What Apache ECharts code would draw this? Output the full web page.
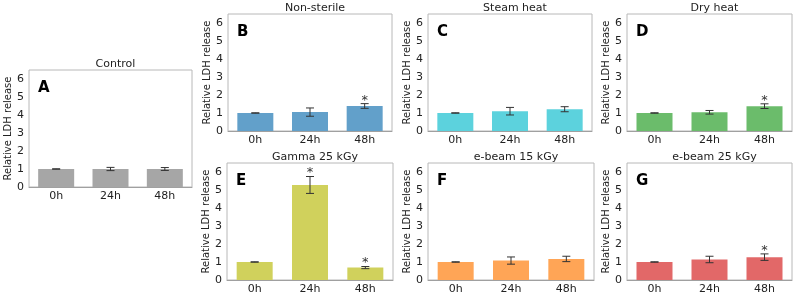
<!DOCTYPE html>
<html>
<head>
<meta charset="utf-8">
<script src="https://cdn.jsdelivr.net/npm/echarts@6/dist/echarts.min.js"></script>
<style>
  html, body { margin: 0; background: #fff; }
  #chart { width: 800px; height: 295px; }
</style>
</head>
<body>
<div id="chart"></div>
<script>
// data
const timepoints = ['0h', '24h', '48h'];
const panelTitles = ['Control', 'Non-sterile', 'Steam heat', 'Dry heat', 'Gamma 25 kGy', 'e-beam 15 kGy', 'e-beam 25 kGy'];
const panelLetters = ['A', 'B', 'C', 'D', 'E', 'F', 'G'];

const controlMean = [1.0, 1.0, 1.0];
const controlErr = [0.01, 0.09, 0.08];
const controlStar = [0, 0, 0];

const nonSterileMean = [1.0, 1.05, 1.39];
const nonSterileErr = [0.01, 0.23, 0.13];
const nonSterileStar = [0, 0, 1];

const steamMean = [1.0, 1.1, 1.21];
const steamErr = [0.01, 0.21, 0.14];
const steamStar = [0, 0, 0];

const dryMean = [1.0, 1.04, 1.38];
const dryErr = [0.01, 0.1, 0.13];
const dryStar = [0, 0, 1];

const gammaMean = [1.0, 5.28, 0.69];
const gammaErr = [0.01, 0.47, 0.06];
const gammaStar = [0, 1, 1];

const ebeam15Mean = [1.0, 1.08, 1.17];
const ebeam15Err = [0.01, 0.2, 0.15];
const ebeam15Star = [0, 0, 0];

const ebeam25Mean = [1.0, 1.14, 1.27];
const ebeam25Err = [0.01, 0.18, 0.18];
const ebeam25Star = [0, 0, 1];

const means = [controlMean, nonSterileMean, steamMean, dryMean, gammaMean, ebeam15Mean, ebeam25Mean];
const errs = [controlErr, nonSterileErr, steamErr, dryErr, gammaErr, ebeam15Err, ebeam25Err];
const stars = [controlStar, nonSterileStar, steamStar, dryStar, gammaStar, ebeam15Star, ebeam25Star];

const colors = ['#a6a6a6', '#62a0ca', '#5cd2dd', '#6bbc6b', '#d0d15c', '#ffa556', '#e26868'];

// panel boxes: left, top, width, height
const boxes = [
  [29, 70, 163, 117],
  [228, 14, 164, 117],
  [428, 14, 164, 117],
  [627, 14, 165, 117],
  [227, 163, 166, 117],
  [428, 163, 166, 117],
  [627, 163, 165, 117]
];

const font = 'DejaVu Sans';
const chart = echarts.init(document.getElementById('chart'));

const grid = [], xAxis = [], yAxis = [], series = [], title = [];

boxes.forEach((b, k) => {
  grid.push({
    left: b[0], top: b[1], width: b[2], height: b[3],
    show: true, borderColor: '#b8b8b8', borderWidth: 1, backgroundColor: 'transparent'
  });
  xAxis.push({
    type: 'category', gridIndex: k, data: timepoints,
    axisLine: { lineStyle: { color: '#a0a0a0', width: 1 } },
    axisTick: { show: false },
    axisLabel: { color: '#222', fontSize: 11, fontFamily: font, margin: 4 }
  });
  yAxis.push({
    type: 'value', gridIndex: k, min: 0, max: 6.5, interval: 1,
    name: 'Relative LDH release', nameLocation: 'middle', nameGap: 14,
    nameTextStyle: { color: '#222', fontSize: 10, fontFamily: font },
    axisLine: { show: false }, axisTick: { show: false },
    splitLine: { show: false },
    axisLabel: {
      color: '#222', fontSize: 11, fontFamily: font, margin: 5,
      formatter: v => (v % 1 ? '' : String(v))
    }
  });
  title.push({
    text: panelTitles[k],
    left: b[0] + b[2] / 2, top: b[1] - 16, textAlign: 'center',
    textStyle: { color: '#222', fontSize: 11, fontWeight: 'normal', fontFamily: font }
  });
  title.push({
    text: panelLetters[k],
    left: b[0] + 4, top: b[1] + 6,
    textStyle: { color: '#000', fontSize: 15, fontWeight: 'bold', fontFamily: font }
  });
  series.push({
    type: 'bar', xAxisIndex: k, yAxisIndex: k,
    data: means[k], barWidth: 36,
    itemStyle: { color: colors[k] }
  });
  series.push({
    type: 'custom', xAxisIndex: k, yAxisIndex: k,
    data: means[k].map((m, i) => [i, m, errs[k][i], stars[k][i]]),
    z: 5,
    renderItem: (params, api) => {
      const i = api.value(0), m = api.value(1), e = api.value(2), s = api.value(3);
      const hi = api.coord([i, m + e]);
      const lo = api.coord([i, m - e]);
      const x = hi[0];
      const st = { stroke: '#333', lineWidth: 1 };
      const children = [
        { type: 'line', shape: { x1: x, y1: hi[1], x2: x, y2: lo[1] }, style: st },
        { type: 'line', shape: { x1: x - 4, y1: hi[1], x2: x + 4, y2: hi[1] }, style: st },
        { type: 'line', shape: { x1: x - 4, y1: lo[1], x2: x + 4, y2: lo[1] }, style: st }
      ];
      if (s) {
        children.push({
          type: 'text',
          style: {
            text: '*', x: x, y: hi[1] + 3, align: 'center', verticalAlign: 'bottom',
            fill: '#333', font: '13px "DejaVu Sans"'
          }
        });
      }
      return { type: 'group', children };
    }
  });
});

chart.setOption({
  animation: false,
  backgroundColor: '#fff',
  title, grid, xAxis, yAxis, series
});
</script>
</body>
</html>
